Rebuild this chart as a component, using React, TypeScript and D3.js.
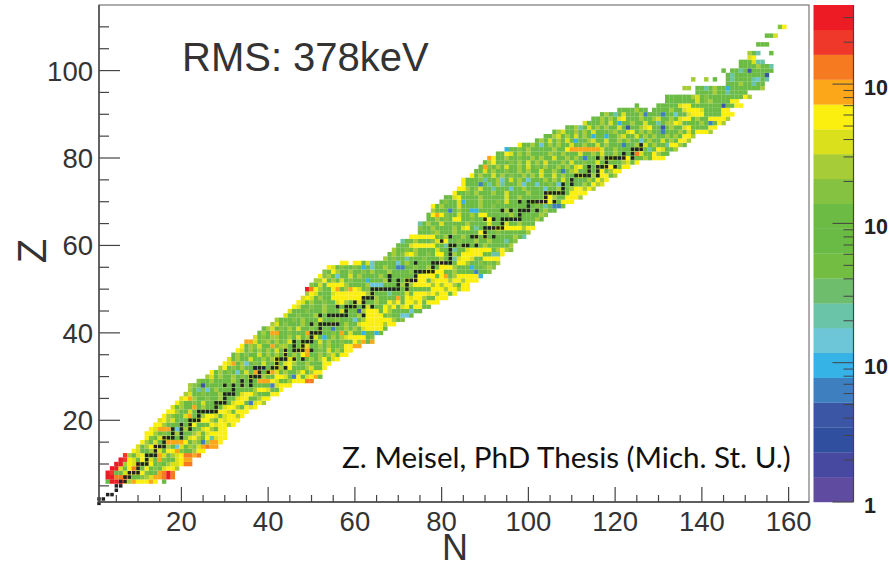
import React from "react";
import * as d3 from "d3";

// Band colours of the colour bar, from lowest (1) to highest value
const bandColors = ["#5f4b9f","#46499f","#30509f","#3a56a5","#3e7fc0","#35b2e6","#6cc6d8","#6ac4a8","#6ebd6c","#73bd43","#69bb45","#6bbb44","#85c241","#a6cc38","#dbe01d","#fbef0f","#fca61a","#f57a20","#f0382a","#ed1c24"];
// Letter used for each band in the rows below
const bandCodes = "pinDBbcqtJHGglyYOorR";

// [Z, first N, band letters for N, N+1, ... ('.' = empty bin, spaces ignored)]
const heatRows: [number, number, string][] = [
[6,3,"GRRRylOYYYOY.G"],
[7,3,"RRooolGGglyOOoRo"],
[8,3,"RrGGyYYyYgGGOoRo"],
[9,4,"RRyGYolGYGgGyYYl"],
[10,5,"RRlYyoGlYGgGlyyYoo"],
[11,6,"RrYyGYlyGOgGGyYOO"],
[12,7,"rlGyYgGGOyGlyYooOo"],
[13,9,"YyGGlyyGYYOgGGlYY"],
[14,10,"yGlYYyGlGcyGlgyOoOO"],
[15,11,"YlGyGgOOOOYGlgBlOOY"],
[16,12,"YgGyYlGGGgyYlGYqyYY"],
[17,12,"YYlGgGgltGGlyGyYYYY"],
[18,13,"YyOOOGcGlGGgyYlGYY"],
[19,14,"YYlGGGlGyYGGGYyYYlY"],
[20,15,"yYlyGtGGGyYYlGYyYYY"],
[21,16,"YlgGGyOGGlYYyGyYYlY"],
[22,17,"YYlGGyGGGGGlYYyGYYY"],
[23,18,"yGlGGOGlGGgGyYYlGYyY"],
[24,19,"YlGGgGyGGGGlGyYYGByYl"],
[25,20,"yYOlGGgGGlGGGyYYGGlYY"],
[26,21,"lyGGgGGGlGGGGyYYlGGGYY"],
[27,22,"lGqgcGlGGGGGGGGlYYyGGY"],
[28,22,"lgGDGGGGgGGGlGGGGGGByYYY"],
[29,24,"gGGlGGGGlGGGGGOOOYyGGlYYYoo"],
[30,26,"lyGlG GlGgG yGGlG GYYyG BYGyY OG"],
[31,27,"YGlGg GcGyG OOGYO yGlGG lYGlY Y"],
[32,29,"lYGgG lGGDG cGGYl GYGGG lyGGY"],
[33,30,"YyOGl cGgGy GGYGy YlGGl GGGYY"],
[34,31,"yGlGG yGGlG lYGGy YGgGl GlYGy Y"],
[35,32,"GlGgG GyGlG lGYGl GYOGG lGlyG YY"],
[36,33,"YyGlG lGlGy GYGGl YOGGg GyGlG YY"],
[37,34,"YGlgy GGOgl lGgGy yGGlG lGGgY YOO"],
[38,35,"OOyGg lGlGg yGGgl GGyGl GGgGG YlOGO"],
[39,37,"yGgGl lGGlG yGlGy GbGlG lyYYY YGg"],
[40,38,"GlGOO GGgGG GOGlG GGgGO GyGGb GGbG"],
[41,39,"GlyGg GlGyG GgGlG GBGGl GlGyY YYYG"],
[42,41,"lyGgG GGlGG gGGGy GGlGG yYYYY YlYY"],
[43,42,"lGGGg GlGGG yGGGg GGGcG lYYYY YYlGg"],
[44,44,"yGGgG GGlGG GgGGG GGlGY YYYGg GGccG"],
[45,45,"yGGGg GGGlG GGyGG GDlYY YGYlG GGGcG G"],
[46,46,"YyGGg GGlGG gGGGl GGyGG GYlYG yYGYY GG"],
[47,47,"YyGlG GgGGy YlGly GGGlG GYlYG YYlYG YYY"],
[48,48,"yYyGl GGYYY YYYYG GGlGG GGOGY yYYlG GYYY"],
[49,49,"lYyGG GyYYY YYYYl lGGGq GGGyG YYYyY lYYGY"],
[50,49,"RoYlG GYOGl OYyGg GGlGG GGGlG GGGGY YYlYY lYY"],
[51,50,"gGyGY YYYlG GGGlc ccGGG GlGlY YYYlY lYYlG YY"],
[52,51,"llYGl GyGgG GGbGG GlGGG GYlYY YGyYY YlYYl YYY"],
[53,52,"YglGc GGyGl GGGGl GDGGG GGlYY YYGYO GlYYY YYb"],
[54,53,"gGYlG GlGGg GlGGG lGGGG gGGlY YYYGG lGGGG BGGg"],
[55,54,"YyGgG GgGbG cGGlG GBBGG gGGlG GYYYl GGGbG Gglg"],
[56,57,"YY.YY GycGG GGGcG lGGGG GGGYl GGYYl GGgGg Gl"],
[57,67,"lGgGG qGGGg GGGlG GqyYY yGGYY YY"],
[58,68,"GlGgy YlGGg GYYGG lGYYY YYGGq qY"],
[59,69,"lGGgG lGGGG yGGGq GGyYY YYYGl Ylg"],
[60,70,"GGGyY YYYYG GqGgG lGGGG lGGGG Gl"],
[61,71,"qGGlG GGgyY YGGgG GGlGG lGGGq Gg"],
[62,73,"YYYYY YGGlG GGlGG lGyGG GGGGl Gq"],
[63,75,"GGGgl GGGlG GGGGY lGGgG GGGGG l"],
[64,75,"gGGlG GGGlG yYGqG GGyYY YYYYl YY"],
[65,75,"qGlGG yGGGG GlGGG GyGGG yGGlG GG"],
[66,77,"GGlGg GYYGG gGGyY GGGGG lGGGG lG"],
[67,77,"GYOYg GGyGG lGYYG GGGGl GGGGG Glg"],
[68,78,"lGGGB GlGGb bGGGG GGlGG GGGGG GlGG"],
[69,78,"YGlGG GyGGG GlGGg GGGGG GGGGg GqGBB G"],
[70,80,"GgGGy bGGGl GGGgG yGGGG GGlyY YlGYY Y"],
[71,81,"GGyYG GGGlG GGGGy GGlGG GGGyY lGGYY Yl"],
[72,83,"YGGgG lGGGl GGyGG GGlGG GlyGl GGYYY Y"],
[73,84,"YYlGg yGGqG GGcGG lGGGG cGGlG GlYYl Yl"],
[74,85,"YGGGB GqGlq GGGlc GGcGG gGcGG GGGlG Yly"],
[75,85,"YGGGg qGGlc GyGlG cGGGl GlGyG lGGGl GYlY"],
[76,87,"YGlGG yGlGg GGlGl GyGGy GlGGG yGGlG YYGl"],
[77,88,"GGyGl GGgGG lGlGG yGGlG BGlyG GlGlY GlYY"],
[78,89,"GOgGl GyGGl GyGgG lGGlG lGyYG GGlGY YlGYY"],
[79,90,"GlYGG GgGlG yGlGy GGGlG yGGgG GyGlG GGlyG Y"],
[80,91,"OYGGl GGgGG lGlGG yGGlG lGBGG GlGyG GyYGG GlGYY Y"],
[81,93,"GGYyG lGlGG GGlgG lGGGy GGlGy GGlGG GGoyG GYlGG"],
[82,95,"bGGgG lGGGG GlGGY OOOOO OOyGG lGGGg GyGqG YyGGl"],
[83,98,"YGGlG cGlGl GGyGG lGGyG lGGGB GGlGy GlGGq YYlG"],
[84,102,"GlGyG lGyGb GGlyG GyGGl GlGGc GlGGy GlGYY l"],
[85,104,"GGlyG lGyGl GbGGb GGlyG GyGlG lGGlG lGYYl"],
[86,106,"GlyGG lGlGy GGGgl GGyYG lGlGG BGGGl GyGYY Yl"],
[87,109,"GGlqG yGlGl GGyGD GGlyY GGDGl GGyYG GGGYY"],
[88,113,"yGGGl GyGbG GlGGy GGqGl lYyGG GGlGB GYl"],
[89,115,"GGlGl GyYGG GlGGl yGGlG yYYGl GGYYY Yl"],
[90,117,"GlGqG yGGGl BGGGB GGcGG yYYYG GGGYY Y"],
[91,121,"GGGGl GG.GG GGlGG yYYYy GGGGY Y"],
[92,125,"G.... GGGGG yYYGG GGGGG DGGYY"],
[93,132,"GGGGG GGyGg lGGGG YY"],
[94,132,"GGGGG GlyGg GGGGG GGGYl"],
[95,139,"GGGGl GGqGG GG"],
[96,136,"ll.GG qGlGG bGGGG GGGl"],
[97,146,"GGGlG GqGG"],
[98,138,"l..l. G..Gq GGGGq cGq"],
[99,146,"GqGGG GGGGD"],
[100,145,"G.GGq GDGGG GG"],
[101,149,"GGGGl GGq"],
[102,149,"GGGyq q"],
[103,151,"yY"],
[104,151,"lGq..G"],
[106,153,"GGG"],
[108,155,"GGy"],
[110,158,"gY"]
];

// Black squares: neutron numbers listed per proton number, starting at stableFirstZ
const stableFirstZ = 1;
const stableN = [
[1],[1,2],[3,4],[5],[5,6],[6,7],[7,8],[8,9,10],[10],[10,11,12],[12],[12,13,14],[14],[14,15,16],[16],[16,17,18,20],[18,20],[18,20,22],[20,22],[22,23,24],
[24],[24,25,26,27,28],[28],[28,29,30],[30],[30,31,32],[32],[30,32,34,36],[34,36],[36,37,38],[38,40],[37,38,39,41,42,44],[42],[42,43,44,46,48],[44],[44,46,47,48,50],[46,48],[46,48,49,50],[50],[50,51,52],
[52],[50,52,53,54,55,56],[],[52,54,55,56,57,58,62],[58],[56,58,59,60,62,64],[60,62],[62,63,64],[64],[64,65,66,67,68,69,70,72],[70,72],[68,70,72,73,74],[68,74],[74,75,76,77,78],[78],[74,78,79,80,81,82],[82],[82],[82],[82,83,85,86,88],
[80],[82,87,88,90,92],[90],[90,91,92,93,94],[94],[90,92,94,95,96,97,98],[98],[94,96,98,99,100,102],[100],[98,100,101,102,103,104,106],[104],[104,105,106,107,108],[108],[108,110],[110],[111,112,113,114,116],[114,116],[114,116,117,118,120],[118],[116,118,119,120,121,122,124],
[122,124],[124,125,126],[126]
];

const xTickValues = [20,40,60,80,100,120,140,160];
const yTickValues = [20,40,60,80,100];
const colorBarLabels = [{ v: 1, t: "1" }, { v: 10, t: "10" }, { v: 100, t: "10" }, { v: 1000, t: "10" }];

const W = 889, H = 566;
const L = 99, R = 809, T = 5, B = 502;
const x = d3.scaleLinear().domain([1, 164.7]).range([L, R]);
const y = d3.scaleLinear().domain([1.31, 115]).range([B, T]);
const cbTop = 10 ** ((B - T) / 139.3);
const cbScale = d3.scaleLog().domain([1, cbTop]).range([B, T]);
const bandValue = d3.scaleLinear().domain([0, bandColors.length]).range([0, Math.log10(cbTop)]);
const cw = x(2) - x(1);
const ch = y(1.31) - y(2.31);
const FONT = "'Liberation Sans', Arial, sans-serif";
const INK = "#333";

const xMinor = d3.range(5, 165, 5);
const yMinor = d3.range(5, 115, 5);

export default function App() {
  const cells: { n: number; z: number; color: string }[] = [];
  heatRows.forEach(([z, first, codes]) => {
    codes.replace(/ /g, "").split("").forEach((c, j) => {
      const k = bandCodes.indexOf(c);
      if (k >= 0) cells.push({ n: first + j, z, color: bandColors[k] });
    });
  });
  const black = stableN.flatMap((ns, i) => ns.map((n) => ({ n, z: stableFirstZ + i })));
  const cbTicks = cbScale.ticks(40).filter((v) => v <= cbTop);

  return (
    <svg width={W} height={H} style={{ position: "absolute", left: 0, top: 0, background: "#fff" }} fontFamily={FONT}>
      {cells.map((c, i) => (
        <rect key={i} x={x(c.n) - cw / 2} y={y(c.z) - ch / 2} width={cw + 0.1} height={ch + 0.1} fill={c.color} />
      ))}
      {black.map((c, i) => (
        <rect key={i} x={x(c.n) - 1.75} y={y(c.z) - 1.75} width={3.5} height={3.5} fill="#222" />
      ))}
      {/* frame */}
      <rect x={L} y={T} width={R - L} height={B - T} fill="none" stroke="#777" strokeWidth={1.2} />
      <line x1={L} x2={L} y1={T} y2={B} stroke="#444" strokeWidth={1.4} />
      <line x1={L} x2={R} y1={B} y2={B} stroke="#444" strokeWidth={1.4} />
      {/* axes */}
      {xMinor.map((v) => (
        <line key={v} x1={x(v)} x2={x(v)} y1={B} y2={B - (v % 20 === 0 ? 15 : 7)} stroke="#444" strokeWidth={1.2} />
      ))}
      {yMinor.map((v) => (
        <line key={v} x1={L} x2={L + (v % 20 === 0 ? 21 : 10)} y1={y(v)} y2={y(v)} stroke="#444" strokeWidth={1.2} />
      ))}
      {xTickValues.map((v) => (
        <text key={v} x={x(v)} y={531} textAnchor="middle" fontSize={27.5} fill={INK}>{v}</text>
      ))}
      {yTickValues.map((v) => (
        <text key={v} x={93} y={y(v) + 10} textAnchor="end" fontSize={27.5} fill={INK}>{v}</text>
      ))}
      <text x={455} y={560} textAnchor="middle" fontSize={36} fill={INK}>N</text>
      <text transform="translate(46,251) rotate(-90)" textAnchor="middle" fontSize={40} fill={INK}>Z</text>
      <text x={182} y={71} fontSize={40} fill={INK}>RMS: 378keV</text>
      <text x={342} y={468} fontSize={29.6} fontFamily="Lato, 'Open Sans', sans-serif" fill="#111">Z. Meisel, PhD Thesis (Mich. St. U.)</text>
      {/* colour bar */}
      {bandColors.map((c, i) => {
        const top = cbScale(10 ** bandValue(i + 1));
        const bottom = cbScale(10 ** bandValue(i));
        return <rect key={i} x={813.5} y={top} width={40} height={bottom - top + 0.2} fill={c} />;
      })}
      <line x1={853.5} x2={853.5} y1={T} y2={B} stroke="#444" strokeWidth={1.2} />
      {cbTicks.map((v) => {
        const major = Math.abs(Math.log10(v) % 1) < 1e-9;
        return <line key={v} x1={853.5} x2={853.5 - (major ? 21 : 10)} y1={cbScale(v)} y2={cbScale(v)} stroke="#444" strokeWidth={1} />;
      })}
      {colorBarLabels.map((d) => (
        <text key={d.v} x={864} y={cbScale(d.v) + 11} fontSize={21.5} fontWeight="bold" fill="#222">{d.t}</text>
      ))}
    </svg>
  );
}
